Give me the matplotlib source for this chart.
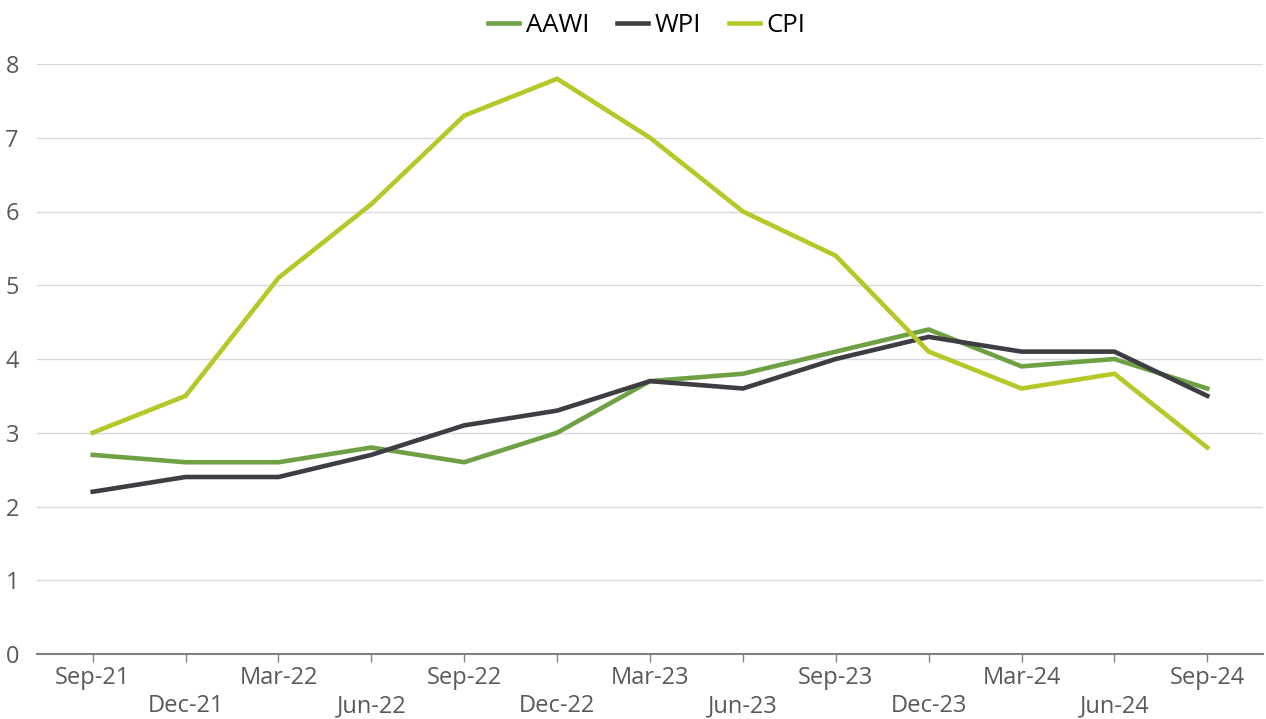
import matplotlib
matplotlib.use("Agg")
import matplotlib.pyplot as plt

# quarterly data, annual % change
quarters = ["Sep-21", "Dec-21", "Mar-22", "Jun-22", "Sep-22", "Dec-22", "Mar-23",
            "Jun-23", "Sep-23", "Dec-23", "Mar-24", "Jun-24", "Sep-24"]
aawi = [2.7, 2.6, 2.6, 2.8, 2.6, 3.0, 3.7, 3.8, 4.1, 4.4, 3.9, 4.0, 3.6]
wpi = [2.2, 2.4, 2.4, 2.7, 3.1, 3.3, 3.7, 3.6, 4.0, 4.3, 4.1, 4.1, 3.5]
cpi = [3.0, 3.5, 5.1, 6.1, 7.3, 7.8, 7.0, 6.0, 5.4, 4.1, 3.6, 3.8, 2.8]
y_ticks = [0, 1, 2, 3, 4, 5, 6, 7, 8]

plt.rcParams['font.family'] = ['Open Sans', 'DejaVu Sans']

fig = plt.figure(figsize=(12.66, 7.19), dpi=100)
ax = fig.add_axes([37 / 1266, (719 - 654) / 719, (1263 - 37) / 1266, (654 - 64) / 719])

x = list(range(len(quarters)))
ax.plot(x, aawi, color="#70a044", linewidth=3.3, label="AAWI", solid_joinstyle="miter")
ax.plot(x, wpi, color="#3d3d44", linewidth=3.3, label="WPI", solid_joinstyle="miter")
ax.plot(x, cpi, color="#b6c728", linewidth=3.3, label="CPI", solid_joinstyle="miter")

ax.set_xlim(-0.6, len(quarters) - 1 + 0.6)
ax.set_ylim(0, 8)
ax.set_yticks(y_ticks)
ax.yaxis.grid(True, color="#d9d9d9", linewidth=1)
ax.set_axisbelow(True)

ax.set_xticks(x)
labels = [q if i % 2 == 0 else "\n" + q for i, q in enumerate(quarters)]
ax.set_xticklabels(labels, fontsize=17, color="#595959", linespacing=1.2)
ax.tick_params(axis="x", length=6, width=1, color="#808080", pad=3)
ax.tick_params(axis="y", length=0, labelsize=17, labelcolor="#595959", pad=13)

for s in ["top", "right", "left"]:
    ax.spines[s].set_visible(False)
ax.spines["bottom"].set_color("#808080")
ax.spines["bottom"].set_linewidth(1.5)

fig.legend(loc="upper center", bbox_to_anchor=(0.511, 1.014), ncol=3, frameon=False,
           fontsize=18.5, handlelength=1.2, handletextpad=0.25, columnspacing=1.1)

fig.savefig("out.png", dpi=100)
